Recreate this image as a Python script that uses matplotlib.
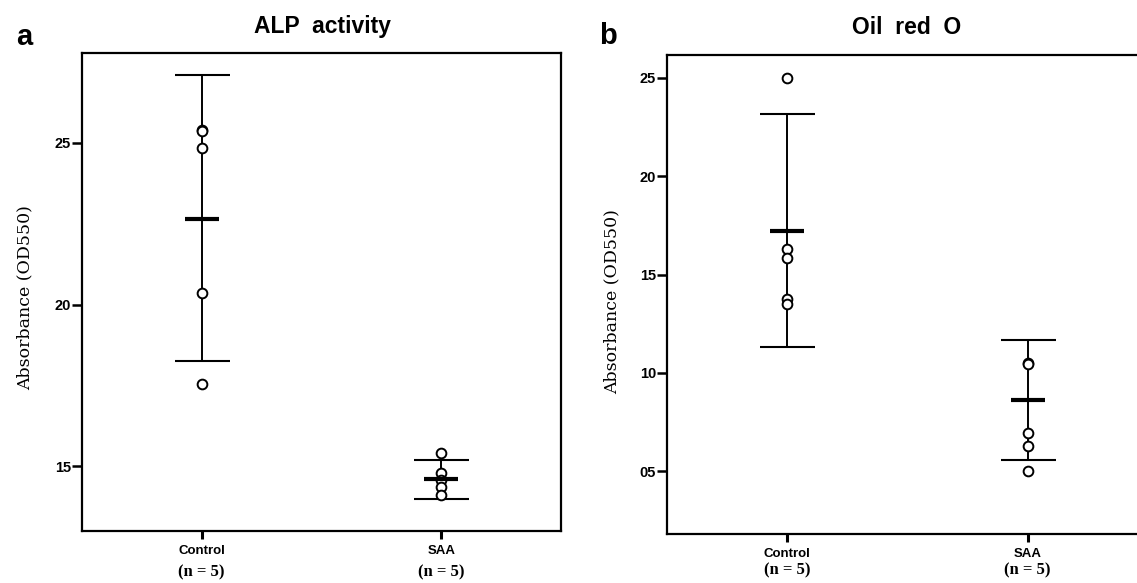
import matplotlib
matplotlib.use("Agg")
import matplotlib.pyplot as plt

# ---------------- data ----------------
groups = ["Control", "SAA"]
n_labels = ["(n = 5)", "(n = 5)"]

# Panel a: ALP activity (absorbance, OD550)
alp_control = [0.2540, 0.2538, 0.2485, 0.2036, 0.1754]
alp_saa = [0.1540, 0.1478, 0.1457, 0.1435, 0.1410]
alp_mean = [0.2265, 0.1460]
alp_lower = [0.1825, 0.1398]
alp_upper = [0.2711, 0.1519]
alp_ticks = [0.15, 0.20, 0.25]
alp_ticklabels = ["15", "20", "25"]

# Panel b: Oil red O (absorbance, OD550)
oil_control = [0.2498, 0.1630, 0.1584, 0.1376, 0.1350]
oil_saa = [0.1051, 0.1045, 0.0696, 0.0630, 0.0503]
oil_mean = [0.1722, 0.0863]
oil_lower = [0.1132, 0.0557]
oil_upper = [0.2317, 0.1169]
oil_ticks = [0.05, 0.10, 0.15, 0.20, 0.25]
oil_ticklabels = ["05", "10", "15", "20", "25"]

W, H = 1137, 583
fig = plt.figure(figsize=(W / 100, H / 100), dpi=100)


def px_rect(x0, y0, x1, y1):
    return [x0 / W, (H - y1) / H, (x1 - x0) / W, (y1 - y0) / H]


def draw_panel(rect, points, means, lowers, uppers, ylim, ticks, ticklabels,
               title, title_xy, letter, letter_xy, ylabel_xy, n_y):
    ax = fig.add_axes(rect)
    xs = [1, 2]
    for x, pts in zip(xs, points):
        ax.plot([x] * len(pts), pts, linestyle="none", marker="o", ms=7,
                mfc="white", mec="black", mew=1.4, zorder=3)
    for x, m, lo, hi in zip(xs, means, lowers, uppers):
        ax.errorbar([x], [m], yerr=[[m - lo], [hi - m]], fmt="none",
                    ecolor="black", elinewidth=1.4, capsize=19.8,
                    capthick=1.5, zorder=2)
        ax.plot([x], [m], marker="_", ms=25, mew=3, color="black", zorder=4)
    ax.set_xlim(0.5, 2.5)
    ax.set_ylim(*ylim)
    ax.set_yticks(ticks)
    ax.set_yticklabels(ticklabels, fontsize=10.5, fontweight="bold",
                       family="Liberation Sans")
    ax.set_xticks(xs)
    ax.set_xticklabels(groups, fontsize=9.5, fontweight="bold",
                       family="Liberation Sans")
    ax.tick_params(axis="y", length=7, width=1.8, pad=1)
    ax.tick_params(axis="x", length=6, width=2.2, pad=4)
    for s in ax.spines.values():
        s.set_linewidth(1.6)
    for x, t in zip(xs, n_labels):
        ax.annotate(t, xy=(x, H - n_y), xycoords=("data", "figure pixels"),
                    ha="center", va="center", fontsize=12, fontweight="bold",
                    family="Liberation Serif", annotation_clip=False)
    fig.text(title_xy[0] / W, 1 - title_xy[1] / H, title, ha="center",
             va="center", fontsize=16.5, fontweight="bold",
             family="Liberation Sans")
    fig.text(letter_xy[0] / W, 1 - letter_xy[1] / H, letter, ha="center",
             va="center", fontsize=21, fontweight="bold",
             family="Liberation Sans")
    fig.text(ylabel_xy[0] / W, 1 - ylabel_xy[1] / H, "Absorbance (OD550)",
             rotation=90, ha="center", va="center", fontsize=12.5,
             family="DejaVu Serif")
    return ax


draw_panel(px_rect(82, 53, 561, 531), [alp_control, alp_saa], alp_mean,
           alp_lower, alp_upper,
           (0.25 - (531 - 143) / 3230.0, 0.25 + (143 - 53) / 3230.0),
           alp_ticks, alp_ticklabels, "ALP  activity", (322, 27), "a",
           (24, 37), (25, 298), 572)

draw_panel(px_rect(667, 55, 1148, 534), [oil_control, oil_saa], oil_mean,
           oil_lower, oil_upper,
           (0.25 - (534 - 78) / 1966.0, 0.25 + (78 - 55) / 1966.0),
           oil_ticks, oil_ticklabels, "Oil  red  O", (907, 27), "b",
           (608, 36), (612, 302), 570)

fig.savefig("out.png", dpi=100)
